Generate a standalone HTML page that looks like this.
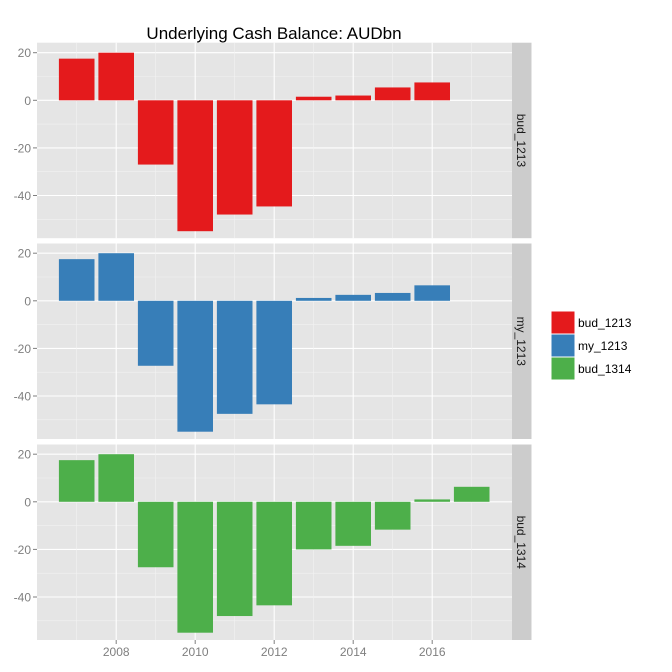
<!DOCTYPE html><html><head><style>body{margin:0;background:#fff}svg{display:block}text{font-family:"Liberation Sans",sans-serif}</style></head><body>
<svg id="s" width="672" height="672" xmlns="http://www.w3.org/2000/svg"></svg>
<script>
const s=document.getElementById('s');let h='';
h+='<text x="274" y="39" font-size="17" text-anchor="middle">Underlying Cash Balance: AUDbn</text>';
const panels=[{top:42.7,zero:100.3,c:'#E41A1C',n:'bud_1213',v:[17.5,20,-27,-55,-48,-44.6,1.5,2,5.4,7.5,null]},
{top:243.5,zero:300.8,c:'#377EB8',n:'my_1213',v:[17.5,20,-27.3,-55,-47.5,-43.5,1.2,2.5,3.3,6.5,null]},
{top:444.5,zero:501.8,c:'#4DAF4A',n:'bud_1314',v:[17.5,20,-27.5,-55,-48,-43.5,-20,-18.5,-11.7,1,6.3]}];
const k=2.38,L=37,R=512,X=y=>76.7+(y-2007)*39.5;
panels.forEach(p=>{const bot=p.top+195.5;
h+=`<rect x="${L}" y="${p.top}" width="${R-L}" height="${bot-p.top}" fill="#E5E5E5"/>`;
for(let v=-50;v<=20;v+=10){const y=p.zero-v*k;if(y>p.top&&y<bot)h+=`<line x1="${L}" x2="${R}" y1="${y}" y2="${y}" stroke="${v%20?'#F2F2F2':'#fff'}" stroke-width="${v%20?0.6:1.1}"/>`}
for(let yr=2007;yr<=2017;yr++){const x=X(yr);h+=`<line x1="${x}" x2="${x}" y1="${p.top}" y2="${bot}" stroke="${yr%2?'#F2F2F2':'#fff'}" stroke-width="${yr%2?0.6:1.1}"/>`}
p.v.forEach((v,i)=>{if(v==null)return;const x=X(2007+i)-17.8;const y1=p.zero-Math.max(v,0)*k,y2=p.zero-Math.min(v,0)*k;h+=`<rect x="${x}" y="${y1}" width="35.6" height="${y2-y1}" fill="${p.c}"/>`});
[20,0,-20,-40].forEach(v=>{const y=p.zero-v*k;h+=`<line x1="33" x2="37" y1="${y}" y2="${y}" stroke="#7F7F7F"/><text x="31" y="${y+4.5}" font-size="12" fill="#7F7F7F" text-anchor="end">${v}</text>`});
h+=`<rect x="${R}" y="${p.top}" width="19.5" height="${bot-p.top}" fill="#CCCCCC"/><text transform="translate(517,${(p.top+bot)/2}) rotate(90)" font-size="12" text-anchor="middle" fill="#1a1a1a">${p.n}</text>`;
h+=`<text x="560" y="${p.top}" />`;
});
[2008,2010,2012,2014,2016].forEach(yr=>{const x=X(yr);h+=`<line x1="${x}" x2="${x}" y1="640" y2="644" stroke="#7F7F7F"/><text x="${x}" y="656" font-size="12" fill="#7F7F7F" text-anchor="middle">${yr}</text>`});
panels.forEach((p,i)=>{const y=311+i*23;h+=`<rect x="551" y="${y}" width="24" height="23" fill="${p.c}" stroke="#fff" stroke-width="1"/><text x="578" y="${y+16}" font-size="12">${p.n}</text>`});
s.innerHTML=h;
</script></body></html>
